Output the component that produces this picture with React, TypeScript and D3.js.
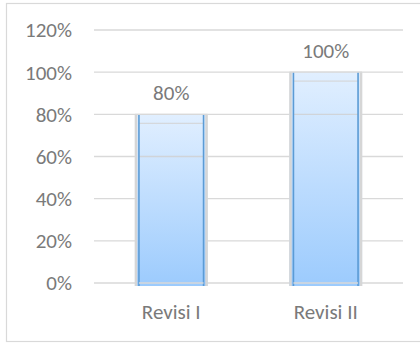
import React from "react";
import * as d3 from "d3";

const categories = ["Revisi I", "Revisi II"];
const values = [80, 100];
const yTicks = [0, 20, 40, 60, 80, 100, 120];

const W = 420;
const H = 343;
const FONT = "Carlito, Calibri, Lato, sans-serif";

export default function App() {
  const x = d3.scaleBand<string>().domain(categories).range([94, 403]).paddingInner(0.53).paddingOuter(0.265);
  const y = d3.scaleLinear().domain([0, 120]).range([283, 30]);
  const bw = x.bandwidth();
  const textColor = "#7a7a7a";
  const fs = 21;
  return (
    <svg width={W} height={H} style={{ position: "absolute", left: 0, top: 0, display: "block" }}>
      <defs>
        <linearGradient id="barGrad" x1="0" y1="0" x2="0" y2="1">
          <stop offset="0%" stopColor="#e1efff" />
          <stop offset="100%" stopColor="#9ccbfd" />
        </linearGradient>
      </defs>
      <rect x={0} y={0} width={W} height={H} fill="#ffffff" />
      <rect x={6.5} y={3.5} width={W + 10} height={338} fill="none" stroke="#d9d9d9" strokeWidth={1.2} />
      {yTicks.map((t) => (
        <g key={t}>
          <line x1={94} x2={403} y1={y(t)} y2={y(t)} stroke="#d9d9d9" strokeWidth={1.3} />
          <text x={72} y={y(t)} dy="0.35em" textAnchor="end" fontFamily={FONT} fontSize={fs} fill={textColor}>
            {t + "%"}
          </text>
        </g>
      ))}
      {categories.map((c, i) => {
        const x0 = x(c) as number;
        const top = y(values[i]);
        const bottom = y(0) + 3;
        const below = y(values[i] - 20);
        return (
          <g key={c}>
            <rect x={x0} y={top} width={bw} height={bottom - top} fill="url(#barGrad)" />
            <line x1={x0 + 4} x2={x0 + bw - 4} y1={top + 9} y2={top + 9} stroke="#d4d4d4" strokeWidth={1.2} opacity={0.8} />
            <line x1={x0 + 4} x2={x0 + bw - 4} y1={below} y2={below} stroke="#d0d0d0" strokeWidth={1.3} opacity={0.8} />
            <line x1={x0 + 1} x2={x0 + 1} y1={top} y2={bottom} stroke="#d6d6d6" strokeWidth={2.5} />
            <line x1={x0 + bw - 1} x2={x0 + bw - 1} y1={top} y2={bottom} stroke="#d6d6d6" strokeWidth={2.5} />
            <line x1={x0 + 4} x2={x0 + 4} y1={top} y2={bottom} stroke="#5b9bd5" strokeWidth={1.6} />
            <line x1={x0 + bw - 4} x2={x0 + bw - 4} y1={top} y2={bottom} stroke="#5b9bd5" strokeWidth={1.6} />
            <line x1={x0} x2={x0 + bw} y1={top} y2={top} stroke="#d9d9d9" strokeWidth={1.3} />
            <line x1={x0 + 4} x2={x0 + bw - 4} y1={y(0)} y2={y(0)} stroke="#d9d9d9" strokeWidth={1.3} />
            <text x={x0 + bw / 2} y={top - 22} dy="0.35em" textAnchor="middle" fontFamily={FONT} fontSize={fs} fill={textColor}>
              {values[i] + "%"}
            </text>
            <text x={x0 + bw / 2} y={312} dy="0.35em" textAnchor="middle" fontFamily={FONT} fontSize={fs} fill={textColor}>
              {c}
            </text>
          </g>
        );
      })}
    </svg>
  );
}
